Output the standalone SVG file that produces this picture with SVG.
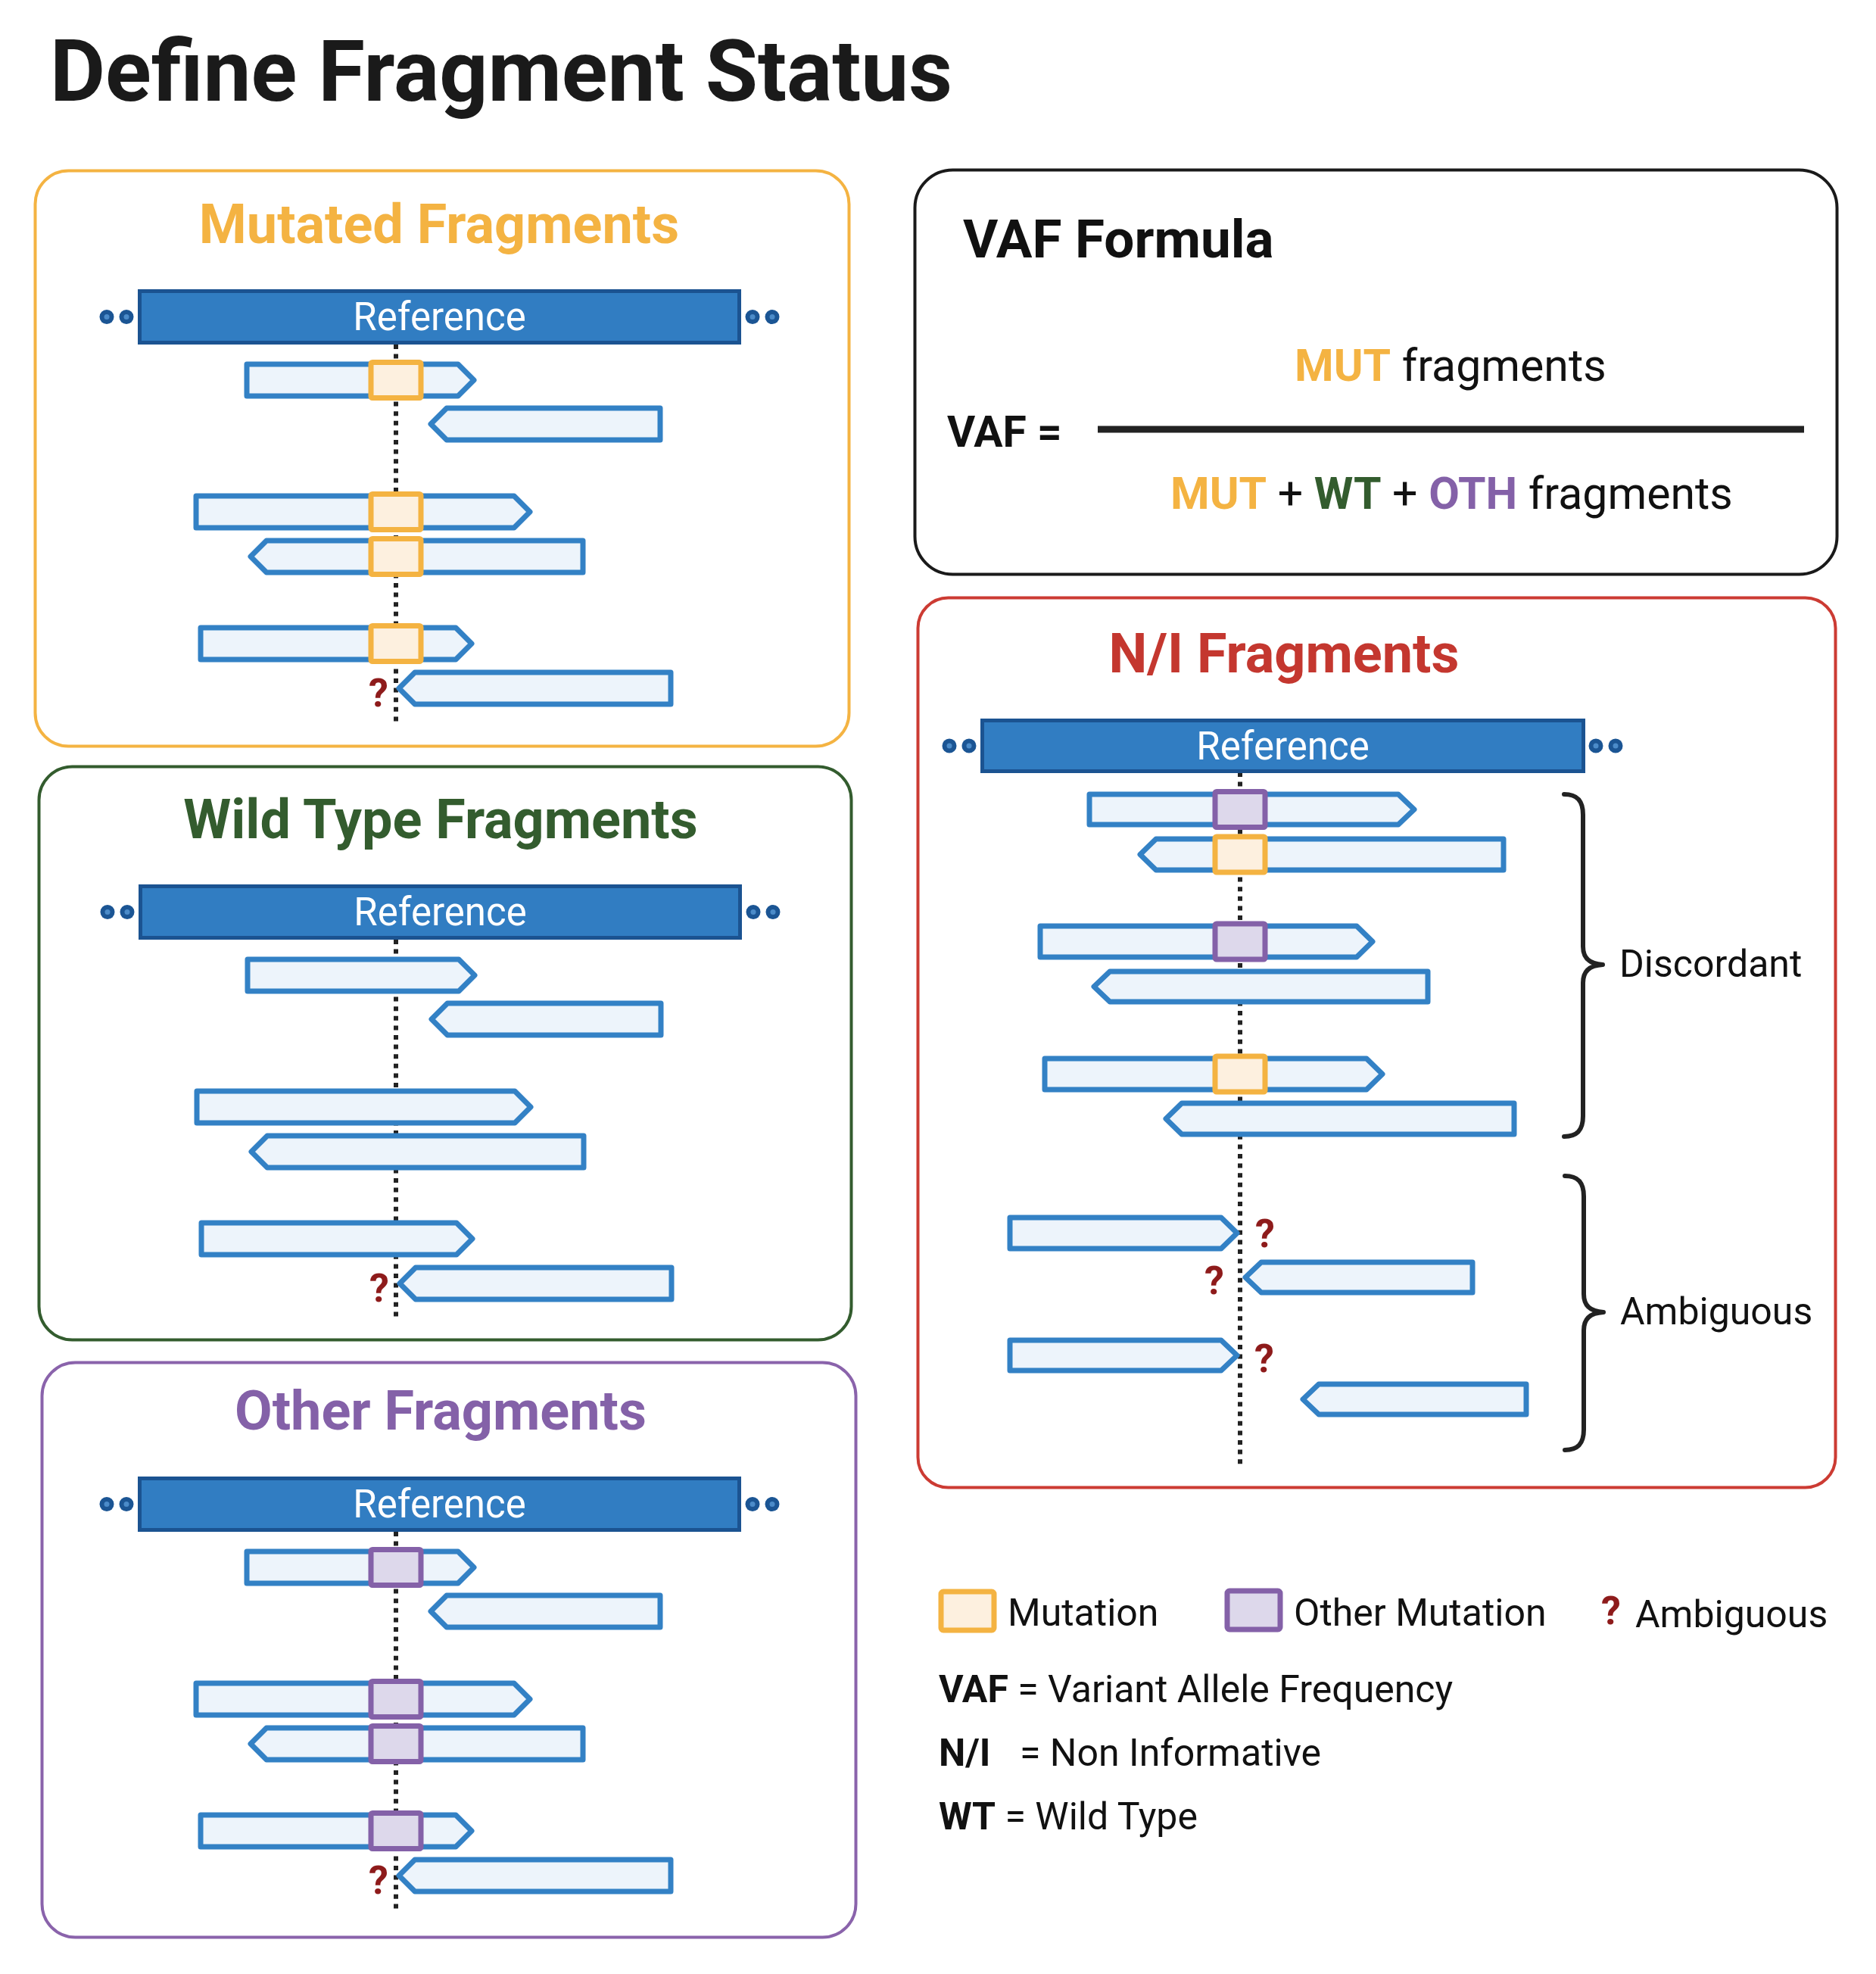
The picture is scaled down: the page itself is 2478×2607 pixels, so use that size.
<svg xmlns="http://www.w3.org/2000/svg" width="2478" height="2607" viewBox="0 0 2478 2607">
<style>
text{font-family:Roboto,"Liberation Sans",sans-serif}
.read{fill:#EDF4FB;stroke:#3381C5;stroke-width:7;stroke-linejoin:round}
.mut{fill:#FDF0DF;stroke:#F4B342;stroke-width:7}
.oth{fill:#DDD8EB;stroke:#8461A8;stroke-width:7}
.ref{fill:#317DC2;stroke:#1B5391;stroke-width:5}
.reftxt{font-size:51px;fill:#fff;text-anchor:middle}
.dot{fill:#1B5594}
.dotc{fill:#4B8BC9}
.dash{stroke:#222;stroke-width:6;stroke-dasharray:6 6.6;fill:none}
.q{font-weight:bold;font-size:52px;fill:#8E1B1B;text-anchor:middle}
.brace{fill:none;stroke:#222;stroke-width:6;stroke-linecap:round;stroke-linejoin:round}
.ptitle{font-weight:bold;font-size:72px;text-anchor:middle}
.body{font-size:50px;fill:#111}
.b{font-weight:bold}
</style>
<defs>
<g id="dots">
<circle cx="0" cy="0" r="9.5" class="dot"/><circle cx="0" cy="0" r="3.5" class="dotc"/>
<circle cx="26" cy="0" r="9.5" class="dot"/><circle cx="26" cy="0" r="3.5" class="dotc"/>
</g>
<g id="leftreads">
<polygon class="read" points="326,481 605,481 626,502 605,523 326,523"/>
<polygon class="read" points="569,560 590,539 872,539 872,581 590,581"/>
<polygon class="read" points="259,655 679,655 700,676 679,697 259,697"/>
<polygon class="read" points="331,735 352,714 770,714 770,756 352,756"/>
<polygon class="read" points="265,829 602,829 623,850 602,871 265,871"/>
<polygon class="read" points="527,909 548,888 886,888 886,930 548,930"/>
<text class="q" x="500" y="933">?</text>
</g>
<g id="leftref">
<rect class="ref" x="184.5" y="384.5" width="792" height="68"/>
<text class="reftxt" x="580.5" y="436">Reference</text>
<use href="#dots" x="141" y="418.5"/>
<use href="#dots" x="994" y="418.5"/>
</g>
</defs>
<rect width="2478" height="2607" fill="#fff"/>
<text x="66" y="133" font-size="112.5" font-weight="bold" fill="#1A1A1A">Define Fragment Status</text>

<g id="connectors">
<line class="dash" x1="523" y1="455" x2="523" y2="956"/>
<line class="dash" x1="523" y1="1241" x2="523" y2="1742"/>
<line class="dash" x1="523" y1="2023" x2="523" y2="2524"/>
<line class="dash" x1="1638" y1="1020" x2="1638" y2="1938"/>
<path class="brace" d="M2066 1049 C2083 1049 2091 1057 2091 1076 L2091 1250 C2091 1265 2099 1273 2117 1274 C2099 1275 2091 1283 2091 1298 L2091 1474 C2091 1493 2083 1501 2066 1501"/>
<path class="brace" d="M2067 1553 C2084 1553 2092 1561 2092 1580 L2092 1709 C2092 1724 2100 1732 2118 1733 C2100 1734 2092 1742 2092 1757 L2092 1888 C2092 1907 2084 1915 2067 1915"/>
</g>

<g id="mutated-fragments">
<rect x="46.5" y="225.5" width="1075" height="760" rx="44" fill="none" stroke="#F4B342" stroke-width="4"/>
<text class="ptitle" x="580" y="321" fill="#F4B342">Mutated Fragments</text>
<use href="#leftref"/>
<use href="#leftreads"/>
<rect class="mut" x="490" y="478.5" width="66" height="47" rx="2"/>
<rect class="mut" x="490" y="652.5" width="66" height="47" rx="2"/>
<rect class="mut" x="490" y="711.5" width="66" height="47" rx="2"/>
<rect class="mut" x="490" y="826.5" width="66" height="47" rx="2"/>
</g>

<g id="wild-type-fragments">
<rect x="51.5" y="1012.5" width="1073" height="757" rx="44" fill="none" stroke="#335C2E" stroke-width="4"/>
<text class="ptitle" x="582" y="1107" fill="#335C2E">Wild Type Fragments</text>
<g transform="translate(1,786)">
<use href="#leftref"/>
<use href="#leftreads"/>
</g>
</g>

<g id="other-fragments">
<rect x="55.5" y="1799.5" width="1075" height="759" rx="44" fill="none" stroke="#8A63AB" stroke-width="4"/>
<text class="ptitle" x="582" y="1888" fill="#8461A8">Other Fragments</text>
<g transform="translate(0,1568)">
<use href="#leftref"/>
<use href="#leftreads"/>
<rect class="oth" x="490" y="478.5" width="66" height="47" rx="2"/>
<rect class="oth" x="490" y="652.5" width="66" height="47" rx="2"/>
<rect class="oth" x="490" y="711.5" width="66" height="47" rx="2"/>
<rect class="oth" x="490" y="826.5" width="66" height="47" rx="2"/>
</g>
</g>

<g id="vaf-formula">
<rect x="1208.5" y="224.5" width="1218" height="534" rx="50" fill="none" stroke="#1A1A1A" stroke-width="4"/>
<text x="1272" y="340" font-size="71" font-weight="bold" fill="#111">VAF Formula</text>
<text x="1251" y="590" font-size="57" font-weight="bold" fill="#111">VAF =</text>
<line x1="1450" y1="567" x2="2383" y2="567" stroke="#222" stroke-width="9"/>
<text x="1710" y="503" font-size="59" fill="#111"><tspan class="b" fill="#F4B342">MUT</tspan> fragments</text>
<text x="1546" y="672" font-size="59" fill="#111"><tspan class="b" fill="#F4B342">MUT</tspan> + <tspan class="b" fill="#335C2E">WT</tspan> + <tspan class="b" fill="#8461A8">OTH</tspan> fragments</text>
</g>

<g id="ni-fragments">
<rect x="1212.5" y="789.5" width="1212" height="1175" rx="40" fill="none" stroke="#CC3B33" stroke-width="4"/>
<text class="ptitle" x="1696" y="888" fill="#C4372F">N/I Fragments</text>
<rect class="ref" x="1297.5" y="951.5" width="794" height="67"/>
<text class="reftxt" x="1694.5" y="1003">Reference</text>
<use href="#dots" x="1254" y="985"/>
<use href="#dots" x="2108" y="985"/>
<polygon class="read" points="1439,1049 1847,1049 1868,1069 1847,1089 1439,1089"/>
<polygon class="read" points="1506,1128.5 1527,1108 1986,1108 1986,1149 1527,1149"/>
<polygon class="read" points="1374,1223 1792,1223 1813,1243.5 1792,1264 1374,1264"/>
<polygon class="read" points="1445,1303 1466,1283 1886,1283 1886,1323 1466,1323"/>
<polygon class="read" points="1380,1398 1805,1398 1826,1418.5 1805,1439 1380,1439"/>
<polygon class="read" points="1540,1477.5 1561,1457 2000,1457 2000,1498 1561,1498"/>
<polygon class="read" points="1334,1608 1613,1608 1634,1628.5 1613,1649 1334,1649"/>
<polygon class="read" points="1645,1687 1666,1667 1945,1667 1945,1707 1666,1707"/>
<polygon class="read" points="1334,1770 1613,1770 1634,1790 1613,1810 1334,1810"/>
<polygon class="read" points="1721,1848 1742,1828 2016,1828 2016,1868 1742,1868"/>
<rect class="oth" x="1605" y="1045.5" width="66" height="47" rx="2"/>
<rect class="mut" x="1605" y="1105" width="66" height="47" rx="2"/>
<rect class="oth" x="1605" y="1220" width="66" height="47" rx="2"/>
<rect class="mut" x="1605" y="1395" width="66" height="47" rx="2"/>
<text class="q" x="1671" y="1647">?</text>
<text class="q" x="1604" y="1709">?</text>
<text class="q" x="1670" y="1812">?</text>
<text class="body" x="2139" y="1290">Discordant</text>
<text class="body" x="2140" y="1749">Ambiguous</text>
</g>

<g id="legend">
<rect class="mut" x="1243" y="2102" width="70" height="51" rx="3"/>
<text class="body" x="1331" y="2147">Mutation</text>
<rect class="oth" x="1621" y="2101" width="70" height="51" rx="3"/>
<text class="body" x="1709" y="2147">Other Mutation</text>
<text class="q" x="2128" y="2145" font-size="56">?</text>
<text class="body" x="2160" y="2149">Ambiguous</text>
<text class="body" x="1240" y="2248"><tspan class="b">VAF</tspan> = Variant Allele Frequency</text>
<text class="body" x="1240" y="2332"><tspan class="b">N/I</tspan></text>
<text class="body" x="1347" y="2332">= Non Informative</text>
<text class="body" x="1240" y="2416"><tspan class="b">WT</tspan> = Wild Type</text>
</g>
</svg>
